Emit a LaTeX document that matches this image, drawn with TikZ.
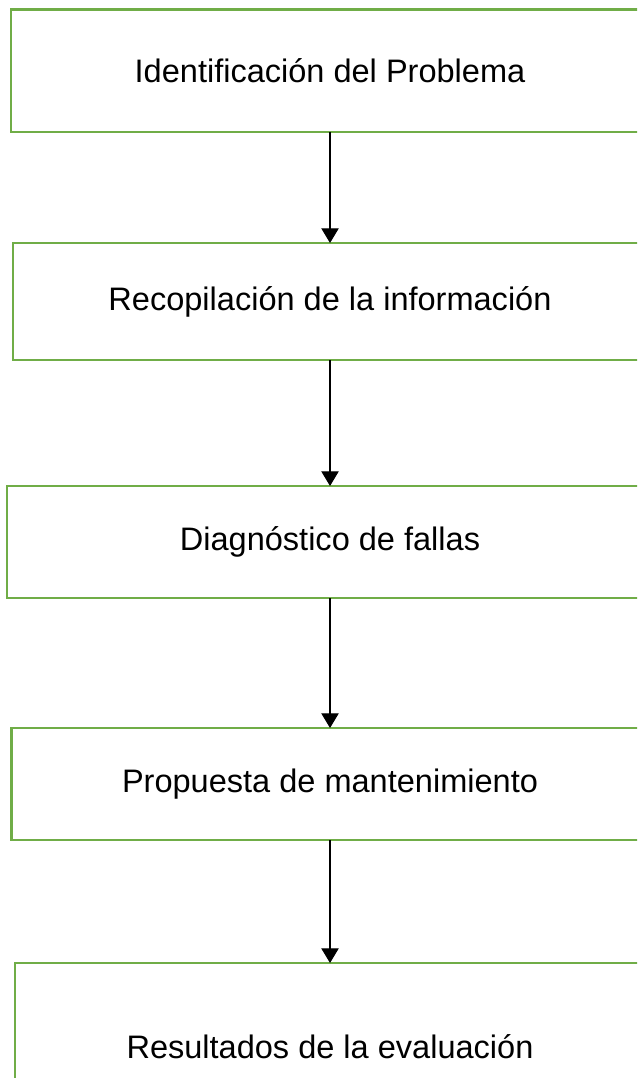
\documentclass[tikz,border=0pt]{standalone}
\usepackage{xcolor}
\usepackage{fontspec}
\setmainfont{Liberation Sans}
\usetikzlibrary{arrows.meta}
\definecolor{stepgreen}{HTML}{70AD47}

\begin{document}
\begin{tikzpicture}[x=0.75pt, y=-0.75pt,
    stepbox/.style={rectangle, draw=stepgreen, line width=2.2pt, fill=white,
        inner sep=0pt, outer sep=0pt,
        font=\fontsize{24.4}{29}\selectfont},
    flow/.style={draw=black, line width=0.8pt, -{Triangle[length=11pt, width=13pt]}}]
    \useasboundingbox (0, 0) rectangle (637, 1078);
    \clip (0, 0) rectangle (637, 1078);

    \node[stepbox, minimum width=478.5pt, minimum height=91.9pt] (s1) at (330, 70.75) {Identificación del Problema};
    \node[stepbox, minimum width=475.5pt, minimum height=87.75pt] (s2) at (330, 301.5) {Recopilación de la información};
    \node[stepbox, minimum width=484.5pt, minimum height=84pt] (s3) at (330, 542) {Diagnóstico de fallas};
    \node[stepbox, minimum width=477.75pt, minimum height=84pt] (s4) at (330, 784) {Propuesta de mantenimiento};
    \node[stepbox, minimum width=472.5pt, minimum height=126pt] (s5) at (330, 1047) {Resultados de la evaluación};

    \draw[flow] (s1.south) -- (s2.north);
    \draw[flow] (s2.south) -- (s3.north);
    \draw[flow] (s3.south) -- (s4.north);
    \draw[flow] (s4.south) -- (s5.north);
\end{tikzpicture}
\end{document}
